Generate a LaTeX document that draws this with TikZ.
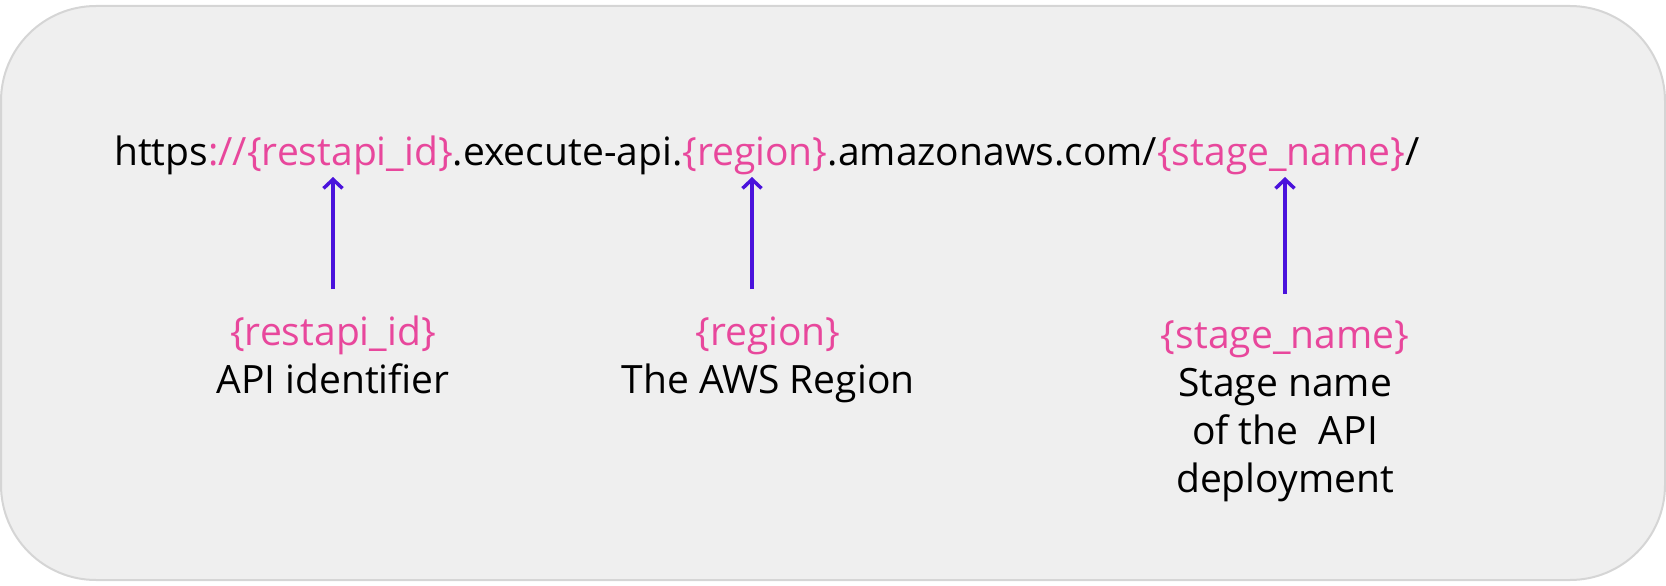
\documentclass[tikz,border=0pt]{standalone}
\usepackage{fontspec}
\setmainfont{Open Sans}
\usetikzlibrary{arrows.meta}

\definecolor{keypink}{HTML}{E8479C}
\definecolor{ptrblue}{HTML}{4A12DC}
\definecolor{panelgray}{HTML}{EFEFEF}
\definecolor{panelline}{HTML}{D5D5D5}

\newcommand{\ph}[1]{\textcolor{keypink}{#1}}

\begin{document}
\begin{tikzpicture}[x=1pt,y=-1pt,
  ptr/.style={draw=ptrblue, line width=4pt, -{Straight Barb[length=9pt,width=19pt,line width=3.5pt]}},
  lbl/.style={anchor=base, inner sep=0pt, align=center, font=\fontsize{39}{48}\selectfont}]

\useasboundingbox (0,0) rectangle (1666,586);

%% panel
\draw[panelline, fill=panelgray, line width=2pt, rounded corners=95pt] (1,6) rectangle (1665,580);

%% url
\node[anchor=base west, inner sep=0pt, font=\fontsize{39}{48}\selectfont] (url) at (114,165)
  {https\ph{://\{restapi\_id\}}.execute-api.\ph{\{region\}}.amazonaws.com/\ph{\{stage\_name\}}/};

%% labels (base = last line)
\node[lbl] (lblid)    at (333,393)  {\ph{\{restapi\_id\}}\\API identifier};
\node[lbl] (lblreg)   at (768,393)  {\ph{\{region\}}\\The AWS Region};
\node[lbl] (lblstage) at (1285,492) {\ph{\{stage\_name\}}\\Stage name\\of the~~API\\deployment};

%% arrow ends
\coordinate (idfoot)    at (333,289);   %% restapi_id
\coordinate (idtip)     at (333,177);
\coordinate (regfoot)   at (752,289);   %% region
\coordinate (regtip)    at (752,177);
\coordinate (stagefoot) at (1285,294);  %% stage_name
\coordinate (stagetip)  at (1285,177);

%% arrows
\draw[ptr] (idfoot) -- (idtip);
\draw[ptr] (regfoot) -- (regtip);
\draw[ptr] (stagefoot) -- (stagetip);

\end{tikzpicture}
\end{document}
